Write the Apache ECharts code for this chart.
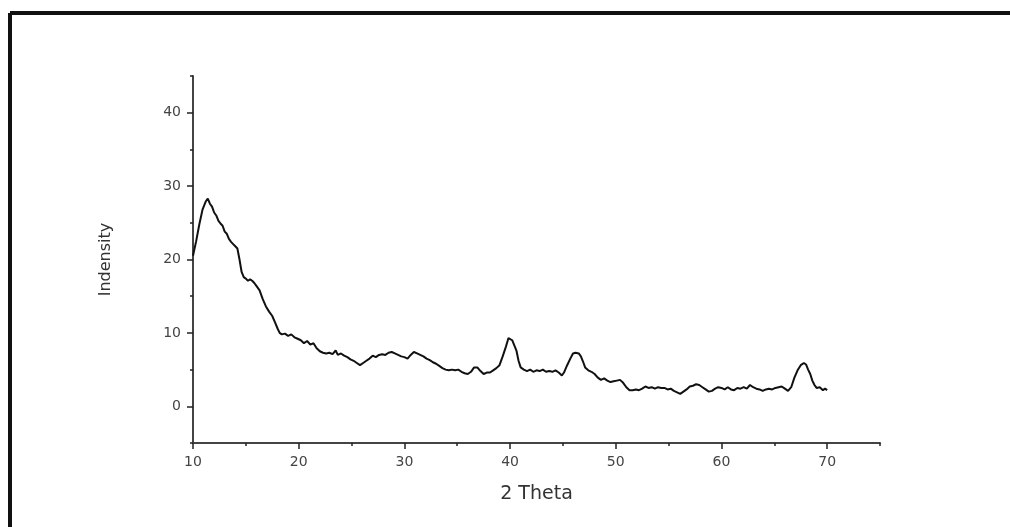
<!DOCTYPE html>
<html>
<head>
<meta charset="utf-8">
<script src="https://cdn.jsdelivr.net/npm/echarts@6/dist/echarts.min.js"></script>
<style>
html,body{margin:0;padding:0;background:#fff;}
#chart{width:1010px;height:527px;}
</style>
</head>
<body>
<div id="chart"></div>
<script>
// 2-theta angles (degrees)
const theta = [
10.0,10.3,10.6,10.9,11.2,11.4,11.6,11.8,12.0,12.2,12.4,12.6,12.8,13.0,13.2,13.4,13.6,13.8,14.0,14.2,
14.4,14.6,14.8,15.0,15.2,15.4,15.6,15.8,16.0,16.3,16.6,16.9,17.2,17.5,17.8,18.0,18.2,18.4,18.7,19.0,
19.3,19.6,19.9,20.2,20.5,20.8,21.1,21.4,21.7,22.0,22.3,22.6,22.9,23.2,23.5,23.7,24.0,24.3,24.6,24.9,
25.2,25.5,25.8,26.1,26.4,26.7,27.0,27.3,27.6,27.9,28.2,28.5,28.8,29.1,29.4,29.7,30.0,30.3,30.6,30.9,
31.2,31.5,31.8,32.1,32.4,32.7,33.0,33.3,33.6,33.9,34.2,34.5,34.8,35.1,35.4,35.7,36.0,36.3,36.6,36.9,
37.2,37.5,37.8,38.1,38.4,38.7,39.0,39.3,39.6,39.85,40.0,40.2,40.4,40.6,40.8,41.0,41.3,41.6,41.9,42.2,
42.5,42.8,43.1,43.4,43.7,44.0,44.3,44.6,44.9,45.1,45.4,45.7,45.95,46.2,46.5,46.7,46.9,47.1,47.4,47.7,
48.0,48.3,48.6,48.9,49.2,49.5,49.8,50.1,50.4,50.7,51.0,51.3,51.6,51.9,52.2,52.5,52.8,53.1,53.4,53.7,
54.0,54.3,54.6,54.9,55.2,55.5,55.8,56.1,56.4,56.7,57.0,57.3,57.6,57.9,58.2,58.5,58.8,59.1,59.4,59.7,
60.0,60.3,60.6,60.9,61.2,61.5,61.8,62.1,62.4,62.7,63.0,63.3,63.6,63.9,64.2,64.5,64.8,65.1,65.4,65.7,
66.0,66.3,66.6,66.9,67.2,67.5,67.8,68.0,68.2,68.4,68.6,68.8,69.0,69.3,69.6,69.8,70.0
];
// intensity values
const intensity = [
20.5,22.5,24.8,26.8,27.9,28.3,27.6,27.2,26.4,26.0,25.3,24.9,24.6,23.8,23.5,22.8,22.4,22.1,21.8,21.5,
20.0,18.3,17.6,17.4,17.1,17.3,17.1,16.8,16.4,15.8,14.6,13.6,12.9,12.3,11.3,10.6,10.0,9.8,9.9,9.6,
9.8,9.4,9.2,9.0,8.6,8.9,8.4,8.6,7.9,7.5,7.3,7.2,7.3,7.1,7.6,7.0,7.2,6.9,6.7,6.4,
6.2,5.9,5.6,5.9,6.2,6.5,6.9,6.7,7.0,7.1,7.0,7.3,7.4,7.2,7.0,6.8,6.7,6.5,7.0,7.4,
7.2,7.0,6.8,6.5,6.3,6.0,5.8,5.5,5.2,5.0,4.9,5.0,4.9,5.0,4.7,4.5,4.4,4.7,5.3,5.3,
4.8,4.4,4.6,4.6,4.9,5.2,5.6,6.8,8.1,9.3,9.5,9.0,8.3,7.6,6.2,5.3,5.0,4.8,5.0,4.7,
4.9,4.8,5.0,4.7,4.8,4.7,4.9,4.6,4.2,4.6,5.6,6.5,7.2,7.3,7.2,6.8,6.1,5.3,4.9,4.7,
4.4,3.9,3.6,3.8,3.5,3.3,3.4,3.5,3.6,3.2,2.6,2.2,2.2,2.3,2.2,2.4,2.7,2.5,2.6,2.4,
2.6,2.5,2.5,2.3,2.4,2.1,1.9,1.7,2.0,2.3,2.7,2.8,3.0,2.9,2.6,2.3,2.0,2.1,2.4,2.6,
2.5,2.3,2.6,2.3,2.2,2.5,2.4,2.6,2.4,2.9,2.6,2.4,2.3,2.1,2.3,2.4,2.3,2.5,2.6,2.7,
2.4,2.1,2.6,3.9,4.9,5.6,5.9,5.7,5.0,4.4,3.5,2.9,2.5,2.6,2.2,2.4,2.2
];
const xMajorTicks = [10, 20, 30, 40, 50, 60, 70];
const yMajorTicks = [0, 10, 20, 30, 40];

const chart = echarts.init(document.getElementById('chart'), null, {renderer: 'canvas'});
const pairs = theta.map((t, i) => [t, intensity[i]]);
const labelStyle = {color: '#444', fontSize: 14, fontFamily: 'DejaVu Sans'};
const option = {
  animation: false,
  backgroundColor: '#fff',
  grid: {left: 193, right: 130, top: 76, bottom: 84},
  graphic: [
    {type: 'line', shape: {x1: 10, y1: 13, x2: 1012, y2: 13}, style: {stroke: '#111', lineWidth: 4}},
    {type: 'line', shape: {x1: 10, y1: 13, x2: 10, y2: 530}, style: {stroke: '#111', lineWidth: 4}}
  ],
  xAxis: [
    {
      type: 'value', min: 10, max: 75, interval: 5, position: 'bottom',
      axisLine: {show: true, onZero: false, lineStyle: {color: '#444', width: 2}},
      axisTick: {show: true, length: 3, lineStyle: {color: '#222', width: 1.5}},
      axisLabel: Object.assign({margin: 12, formatter: v => (v % 10 === 0 ? String(v) : '')}, labelStyle),
      splitLine: {show: false},
      name: '2 Theta', nameLocation: 'middle', nameGap: 42,
      nameTextStyle: {color: '#333', fontSize: 19, fontFamily: 'DejaVu Sans'}
    },
    {
      type: 'value', min: 10, max: 75, position: 'bottom',
      axisLine: {show: false, onZero: false},
      axisTick: {show: true, length: 6, customValues: xMajorTicks, lineStyle: {color: '#222', width: 1.5}},
      axisLabel: {show: false},
      splitLine: {show: false}
    }
  ],
  yAxis: [
    {
      type: 'value', min: -5, max: 45, interval: 5, position: 'left',
      axisLine: {show: true, onZero: false, lineStyle: {color: '#444', width: 2}},
      axisTick: {show: true, length: 3, lineStyle: {color: '#222', width: 1.5}},
      axisLabel: Object.assign({margin: 12, formatter: v => (v % 10 === 0 ? String(v) : '')}, labelStyle),
      splitLine: {show: false},
      name: 'Indensity', nameLocation: 'middle', nameGap: 79, nameRotate: 90,
      nameTextStyle: {color: '#333', fontSize: 16, fontFamily: 'DejaVu Sans'}
    },
    {
      type: 'value', min: -5, max: 45, position: 'left',
      axisLine: {show: false, onZero: false},
      axisTick: {show: true, length: 6, customValues: yMajorTicks, lineStyle: {color: '#222', width: 1.5}},
      axisLabel: {show: false},
      splitLine: {show: false}
    }
  ],
  series: [{
    type: 'line', xAxisIndex: 0, yAxisIndex: 0,
    data: pairs, showSymbol: false, symbol: 'none',
    lineStyle: {color: '#111', width: 2}
  }]
};
chart.setOption(option);
</script>
</body>
</html>
